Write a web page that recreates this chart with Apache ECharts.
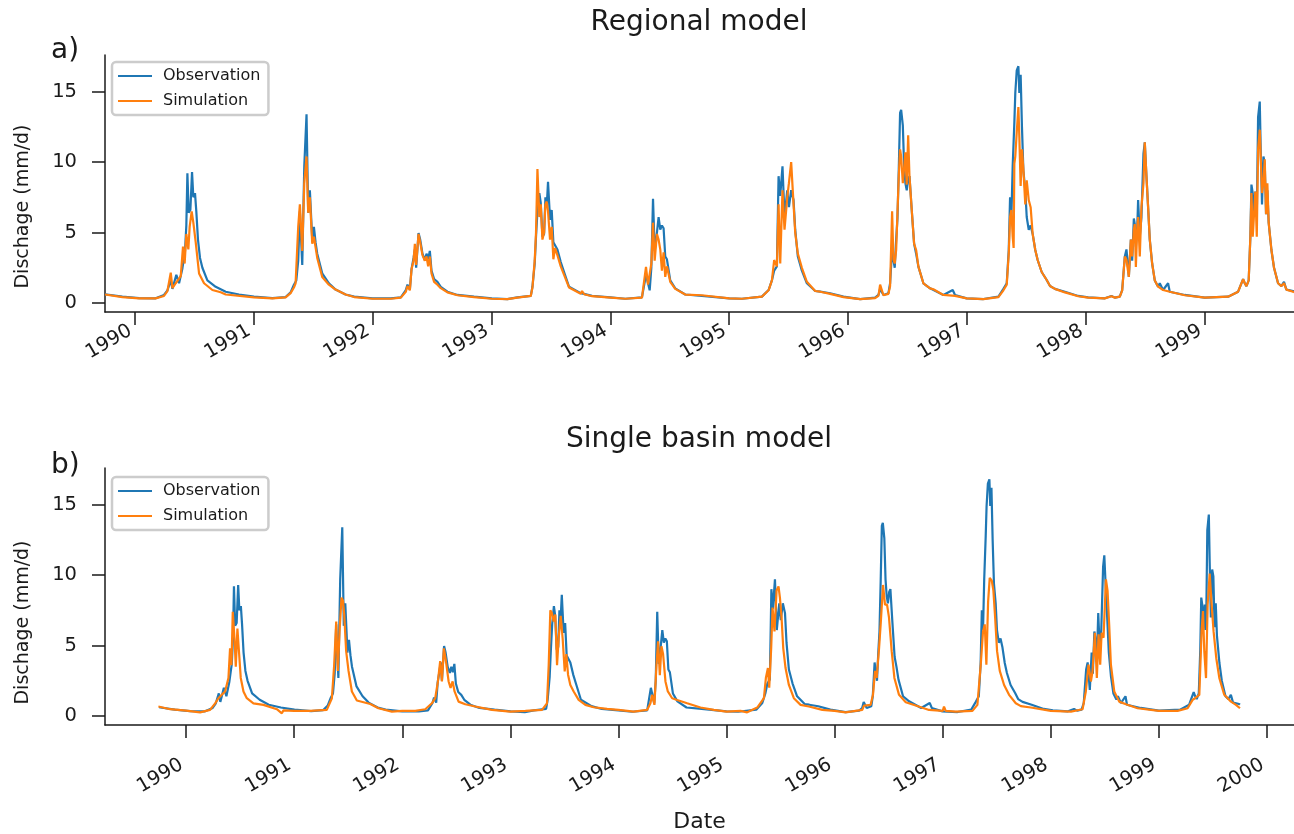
<!DOCTYPE html>
<html><head><meta charset="utf-8">
<script src="https://cdn.jsdelivr.net/npm/echarts@6/dist/echarts.min.js"></script>
<style>html,body{margin:0;padding:0;background:#fff}#c{width:1294px;height:834px}</style>
</head><body><div id="c"></div>
<script>
// time in decimal years, discharge in mm/d
const observation = [
[1989.75,0.62],[1989.896,0.45],[1990.036,0.35],[1990.176,0.33],[1990.246,0.57],[1990.275,0.9],[1990.303,1.6],[1990.317,1.0],[1990.35,2.0],[1990.373,1.4],[1990.401,2.45],[1990.423,3.7],[1990.434,5.5],[1990.443,9.2],[1990.454,6.4],[1990.468,6.6],[1990.482,9.3],[1990.493,7.5],[1990.507,7.8],[1990.518,6.5],[1990.532,4.5],[1990.549,3.2],[1990.569,2.5],[1990.611,1.6],[1990.681,1.15],[1990.765,0.8],[1990.877,0.6],[1991.003,0.45],[1991.157,0.35],[1991.269,0.42],[1991.311,0.75],[1991.339,1.3],[1991.359,1.6],[1991.375,3.0],[1991.389,6.5],[1991.409,2.7],[1991.426,9.7],[1991.445,13.4],[1991.459,6.4],[1991.473,8.0],[1991.493,4.5],[1991.507,5.4],[1991.521,4.3],[1991.535,3.5],[1991.577,2.1],[1991.633,1.4],[1991.689,0.95],[1991.773,0.6],
[1991.846,0.45],[1992.0,0.33],[1992.154,0.33],[1992.238,0.4],[1992.28,0.92],[1992.294,1.3],[1992.314,0.95],[1992.328,2.4],[1992.345,3.2],[1992.356,3.8],[1992.367,2.5],[1992.387,4.97],[1992.401,4.5],[1992.42,3.5],[1992.44,3.05],[1992.454,3.5],[1992.468,3.1],[1992.482,3.7],[1992.496,2.3],[1992.518,1.7],[1992.546,1.5],[1992.574,1.15],[1992.63,0.8],[1992.714,0.57],[1992.854,0.45],[1993.003,0.33],[1993.134,0.27],[1993.218,0.4],[1993.331,0.5],[1993.345,1.15],[1993.364,2.8],[1993.375,4.7],[1993.387,6.5],[1993.403,7.8],[1993.415,7.1],[1993.429,4.7],[1993.443,4.9],[1993.454,7.5],[1993.465,6.8],[1993.476,8.6],[1993.493,5.9],[1993.507,6.6],[1993.521,4.3],[1993.535,4.4],[1993.555,3.8],[1993.583,2.9],[1993.611,2.2],[1993.653,1.15],[1993.751,0.7],
[1993.846,0.5],[1994.0,0.4],[1994.126,0.3],[1994.266,0.4],[1994.3,2.0],[1994.317,1.4],[1994.331,0.9],[1994.345,2.5],[1994.359,7.4],[1994.373,3.7],[1994.392,5.0],[1994.406,6.1],[1994.42,5.2],[1994.434,5.5],[1994.448,5.3],[1994.462,3.3],[1994.476,3.1],[1994.504,1.6],[1994.546,1.04],[1994.63,0.6],[1994.77,0.5],[1995.0,0.33],[1995.107,0.3],[1995.275,0.45],[1995.331,0.92],[1995.359,1.6],[1995.378,2.3],[1995.401,2.6],[1995.415,9.0],[1995.429,7.6],[1995.448,9.7],[1995.465,6.1],[1995.488,8.0],[1995.502,6.8],[1995.521,8.0],[1995.541,7.3],[1995.555,5.2],[1995.577,3.3],[1995.611,2.3],[1995.653,1.4],[1995.723,0.85],
[1995.765,0.8],[1995.849,0.69],[1995.961,0.45],[1996.101,0.27],[1996.227,0.38],[1996.255,0.57],[1996.269,1.0],[1996.297,0.57],[1996.339,0.69],[1996.353,1.4],[1996.37,3.8],[1996.381,3.05],[1996.392,2.5],[1996.404,4.5],[1996.415,6.0],[1996.426,9.5],[1996.437,13.5],[1996.446,13.7],[1996.46,12.6],[1996.471,9.7],[1996.482,8.5],[1996.493,8.0],[1996.505,8.8],[1996.516,9.0],[1996.535,6.6],[1996.555,4.2],[1996.572,3.5],[1996.591,2.58],[1996.633,1.4],[1996.689,1.04],[1996.801,0.57],[1996.88,0.92],[1996.899,0.57],[1996.997,0.33],[1997.138,0.28],[1997.264,0.45],[1997.306,1.0],[1997.334,1.4],[1997.351,3.76],[1997.362,7.5],[1997.373,6.1],[1997.384,9.7],[1997.398,12.8],[1997.406,14.9],[1997.418,16.5],[1997.432,16.8],[1997.44,14.9],[1997.451,16.2],[1997.462,12.5],[1997.474,9.4],[1997.49,8.0],[1997.502,6.1],[1997.519,5.2],[1997.535,5.5],[1997.552,4.9],[1997.574,3.76],[1997.594,3.05],[1997.628,2.2],[1997.67,1.63],[1997.698,1.2],
[1997.739,1.0],[1997.823,0.8],[1997.935,0.5],[1998.019,0.4],[1998.159,0.33],[1998.215,0.5],[1998.243,0.38],[1998.285,0.45],[1998.305,0.92],[1998.327,3.3],[1998.341,3.8],[1998.361,1.85],[1998.378,4.5],[1998.389,3.0],[1998.403,6.0],[1998.411,5.6],[1998.42,4.0],[1998.431,5.2],[1998.439,7.3],[1998.453,4.7],[1998.467,6.1],[1998.484,10.6],[1998.495,11.4],[1998.509,9.0],[1998.523,6.8],[1998.537,4.5],[1998.557,2.8],[1998.579,1.6],[1998.607,1.16],[1998.621,1.4],[1998.649,0.92],[1998.691,1.4],[1998.705,0.8],[1998.831,0.57],[1999.0,0.38],[1999.196,0.45],[1999.28,0.8],[1999.322,1.7],[1999.336,1.4],[1999.35,1.2],[1999.369,1.6],[1999.383,4.7],[1999.392,8.4],[1999.403,7.8],[1999.414,6.1],[1999.425,7.9],[1999.437,6.1],[1999.448,13.2],[1999.462,14.3],[1999.47,10.9],[1999.481,7.0],[1999.493,10.4],[1999.504,9.9],[1999.515,6.3],[1999.526,8.0],[1999.537,5.7],[1999.56,3.76],[1999.582,2.5],[1999.616,1.4],[1999.644,1.2],[1999.666,1.5],[1999.686,0.95],[1999.742,0.85],[1999.75,0.8]
];

const regionalSimulation = [
[1989.75,0.6],[1989.896,0.42],[1990.036,0.33],[1990.176,0.33],[1990.246,0.5],[1990.275,0.85],[1990.303,2.15],[1990.317,1.05],[1990.345,1.4],[1990.387,1.9],[1990.406,4.0],[1990.42,2.8],[1990.434,4.9],[1990.451,3.8],[1990.462,5.4],[1990.479,6.5],[1990.493,5.7],[1990.513,4.3],[1990.541,2.1],[1990.583,1.4],[1990.653,0.92],[1990.723,0.76],[1990.765,0.6],[1991.003,0.4],[1991.157,0.33],[1991.269,0.4],[1991.311,0.7],[1991.339,1.1],[1991.353,1.4],[1991.375,5.4],[1991.389,7.0],[1991.409,3.7],[1991.426,8.5],[1991.445,10.4],[1991.459,6.4],[1991.473,7.5],[1991.493,4.2],[1991.507,4.7],[1991.535,3.2],[1991.577,1.85],[1991.633,1.3],[1991.689,0.95],[1991.773,0.6],
[1991.846,0.42],[1992.0,0.3],[1992.154,0.3],[1992.238,0.38],[1992.28,0.8],[1992.294,1.2],[1992.314,0.9],[1992.328,2.4],[1992.345,3.0],[1992.356,4.2],[1992.367,2.7],[1992.387,4.9],[1992.401,4.3],[1992.42,3.4],[1992.44,3.0],[1992.454,3.3],[1992.468,2.6],[1992.482,3.3],[1992.496,2.1],[1992.518,1.5],[1992.546,1.3],[1992.574,1.05],[1992.63,0.75],[1992.714,0.55],[1992.854,0.42],[1993.003,0.3],[1993.134,0.27],[1993.218,0.38],[1993.331,0.5],[1993.345,1.1],[1993.364,3.0],[1993.375,5.0],[1993.387,9.5],[1993.403,6.1],[1993.415,7.0],[1993.429,4.5],[1993.443,5.0],[1993.454,7.0],[1993.465,7.2],[1993.476,6.5],[1993.493,4.5],[1993.507,5.4],[1993.521,3.1],[1993.535,3.9],[1993.555,3.4],[1993.583,2.6],[1993.611,2.0],[1993.653,1.1],[1993.751,0.65],
[1993.762,0.85],[1993.78,0.62],[1993.846,0.48],[1994.0,0.38],[1994.126,0.3],[1994.266,0.38],[1994.3,2.56],[1994.317,1.3],[1994.331,1.2],[1994.345,2.8],[1994.359,5.7],[1994.373,3.0],[1994.392,4.9],[1994.406,4.5],[1994.42,3.8],[1994.434,2.3],[1994.448,3.6],[1994.462,1.85],[1994.476,2.6],[1994.504,1.5],[1994.546,1.0],[1994.63,0.6],[1994.77,0.55],[1995.0,0.33],[1995.107,0.3],[1995.275,0.45],[1995.331,0.9],[1995.359,1.6],[1995.378,3.05],[1995.401,2.6],[1995.415,7.0],[1995.429,2.8],[1995.448,8.0],[1995.465,5.2],[1995.488,7.5],[1995.502,8.5],[1995.521,10.0],[1995.541,7.0],[1995.555,5.0],[1995.577,3.5],[1995.611,2.5],[1995.653,1.5],[1995.723,0.85],
[1995.765,0.8],[1995.849,0.65],[1995.961,0.42],[1996.101,0.27],[1996.227,0.35],[1996.255,0.5],[1996.269,1.3],[1996.297,0.55],[1996.339,0.65],[1996.353,1.2],[1996.37,6.5],[1996.381,3.1],[1996.392,2.8],[1996.404,3.76],[1996.415,6.4],[1996.426,9.0],[1996.437,10.9],[1996.446,10.4],[1996.46,8.5],[1996.471,8.5],[1996.482,10.7],[1996.493,8.4],[1996.505,11.9],[1996.516,9.0],[1996.535,6.6],[1996.555,4.2],[1996.572,3.76],[1996.591,2.58],[1996.633,1.4],[1996.689,1.04],[1996.717,0.97],[1996.801,0.57],[1996.899,0.5],[1996.997,0.33],[1997.138,0.28],[1997.264,0.42],[1997.306,0.9],[1997.334,1.3],[1997.351,3.5],[1997.362,6.1],[1997.373,6.6],[1997.384,4.7],[1997.392,3.9],[1997.398,9.9],[1997.406,10.4],[1997.418,12.1],[1997.432,13.9],[1997.44,11.8],[1997.451,8.3],[1997.462,10.9],[1997.474,9.5],[1997.49,7.0],[1997.502,8.7],[1997.519,7.3],[1997.535,6.8],[1997.552,4.9],[1997.574,3.76],[1997.594,3.05],[1997.628,2.2],[1997.67,1.63],[1997.698,1.2],
[1997.739,1.0],[1997.823,0.75],[1997.935,0.48],[1998.019,0.38],[1998.159,0.33],[1998.215,0.48],[1998.243,0.38],[1998.285,0.45],[1998.305,0.9],[1998.327,3.3],[1998.341,3.05],[1998.361,1.85],[1998.378,4.5],[1998.389,3.3],[1998.403,5.2],[1998.411,5.6],[1998.42,2.56],[1998.431,5.2],[1998.439,6.1],[1998.453,3.3],[1998.467,6.8],[1998.484,8.5],[1998.495,11.4],[1998.509,9.0],[1998.523,6.8],[1998.537,4.5],[1998.557,2.8],[1998.579,1.6],[1998.607,1.16],[1998.621,1.3],[1998.649,0.92],[1998.705,0.8],[1998.831,0.55],[1999.0,0.38],[1999.196,0.45],[1999.28,0.8],[1999.322,1.7],[1999.336,1.4],[1999.35,1.2],[1999.369,1.6],[1999.383,4.7],[1999.392,7.8],[1999.403,4.7],[1999.414,4.7],[1999.425,7.9],[1999.437,4.7],[1999.448,10.9],[1999.462,12.3],[1999.47,10.4],[1999.481,7.8],[1999.493,8.5],[1999.504,10.2],[1999.515,6.3],[1999.526,8.5],[1999.537,5.7],[1999.56,3.76],[1999.582,2.5],[1999.616,1.4],[1999.644,1.2],[1999.666,1.4],[1999.686,0.95],[1999.742,0.8],[1999.75,0.75]
];

const singleBasinSimulation = [
[1989.744,0.67],[1989.852,0.48],[1990.0,0.38],[1990.13,0.26],[1990.222,0.43],[1990.269,0.9],[1990.299,1.26],[1990.33,1.5],[1990.361,1.74],[1990.392,2.7],[1990.407,4.8],[1990.42,3.6],[1990.432,7.4],[1990.448,5.5],[1990.46,3.5],[1990.475,6.2],[1990.491,4.4],[1990.506,2.7],[1990.531,1.74],[1990.562,1.26],[1990.623,0.9],[1990.716,0.79],[1990.731,0.85],[1990.84,0.48],[1990.886,0.19],[1990.901,0.4],[1991.0,0.36],[1991.148,0.36],[1991.302,0.43],[1991.349,1.26],[1991.37,3.6],[1991.389,6.7],[1991.404,3.2],[1991.42,6.0],[1991.438,8.4],[1991.451,8.2],[1991.463,7.2],[1991.481,4.6],[1991.503,3.2],[1991.534,1.74],[1991.58,1.1],[1991.704,0.85],
[1991.78,0.55],[1991.904,0.31],[1992.0,0.36],[1992.12,0.36],[1992.213,0.48],[1992.274,0.9],[1992.305,1.26],[1992.33,2.45],[1992.351,3.9],[1992.367,2.45],[1992.385,4.8],[1992.404,3.9],[1992.429,2.45],[1992.447,2.0],[1992.466,2.45],[1992.484,1.74],[1992.521,1.02],[1992.583,0.83],[1992.676,0.67],[1992.83,0.43],[1993.0,0.31],[1993.139,0.36],[1993.293,0.43],[1993.339,0.9],[1993.355,3.64],[1993.37,7.5],[1993.385,7.3],[1993.401,6.7],[1993.416,7.2],[1993.432,3.6],[1993.447,5.5],[1993.466,7.1],[1993.484,5.5],[1993.503,3.17],[1993.518,4.4],[1993.534,2.93],[1993.555,2.2],[1993.586,1.74],[1993.632,1.14],[1993.694,0.79],
[1993.771,0.62],[1993.895,0.5],[1994.0,0.43],[1994.142,0.31],[1994.265,0.43],[1994.296,0.9],[1994.312,1.5],[1994.333,0.79],[1994.352,3.64],[1994.367,5.3],[1994.383,2.9],[1994.398,4.95],[1994.413,4.4],[1994.435,2.45],[1994.457,1.74],[1994.497,1.26],[1994.543,1.14],[1994.636,0.9],[1994.759,0.6],[1994.883,0.43],[1995.0,0.31],[1995.13,0.36],[1995.191,0.26],[1995.284,0.6],[1995.346,1.26],[1995.364,2.69],[1995.383,3.4],[1995.395,2.0],[1995.413,4.8],[1995.426,7.7],[1995.444,6.0],[1995.463,8.9],[1995.481,9.2],[1995.494,8.4],[1995.509,7.0],[1995.525,4.8],[1995.546,3.4],[1995.577,2.2],[1995.623,1.26],[1995.685,0.79],
[1995.762,0.67],[1995.886,0.43],[1996.0,0.36],[1996.102,0.26],[1996.256,0.43],[1996.272,0.74],[1996.333,0.79],[1996.355,1.5],[1996.374,3.2],[1996.389,2.7],[1996.411,4.8],[1996.426,6.5],[1996.448,9.3],[1996.466,7.9],[1996.485,7.9],[1996.503,7.0],[1996.528,4.6],[1996.553,2.7],[1996.596,1.5],[1996.658,0.98],[1996.75,0.74],[1996.874,0.43],[1997.0,0.36],[1997.012,0.67],[1997.028,0.36],[1997.12,0.31],[1997.275,0.36],[1997.321,0.79],[1997.352,3.64],[1997.373,6.0],[1997.389,6.5],[1997.404,3.64],[1997.42,8.1],[1997.435,9.8],[1997.454,9.6],[1997.469,8.9],[1997.485,7.0],[1997.503,4.6],[1997.528,3.2],[1997.568,2.2],[1997.614,1.5],[1997.676,0.9],
[1997.723,0.7],[1997.815,0.6],[1998.0,0.36],[1998.186,0.31],[1998.294,0.48],[1998.324,1.74],[1998.349,3.64],[1998.371,2.45],[1998.386,3.17],[1998.408,5.9],[1998.426,2.7],[1998.442,5.8],[1998.457,3.64],[1998.47,5.9],[1998.488,5.55],[1998.51,9.7],[1998.525,8.9],[1998.54,6.5],[1998.556,3.64],[1998.587,1.74],[1998.633,1.02],[1998.695,0.83],[1998.803,0.55],[1999.0,0.36],[1999.173,0.36],[1999.266,0.55],[1999.312,1.14],[1999.334,1.26],[1999.374,1.5],[1999.395,6.0],[1999.408,7.45],[1999.42,4.6],[1999.436,2.69],[1999.451,7.9],[1999.47,10.1],[1999.488,7.9],[1999.506,6.0],[1999.531,4.1],[1999.559,2.7],[1999.605,1.5],[1999.667,1.02],[1999.713,0.79],[1999.75,0.55]
];

const yearTicksA = [1990, 1991, 1992, 1993, 1994, 1995, 1996, 1997, 1998, 1999];
const yearTicksB = [1990, 1991, 1992, 1993, 1994, 1995, 1996, 1997, 1998, 1999, 2000];
const dischargeTicks = [0, 5, 10, 15];
const panelTitles = ['Regional model', 'Single basin model'];
const panelLetters = ['a)', 'b)'];
const seriesNames = ['Observation', 'Simulation'];
const yLabel = 'Dischage (mm/d)';
const xLabel = 'Date';

const FONT = 'DejaVu Sans';
const INK = '#1a1a1a';
const BLUE = '#1f77b4', ORANGE = '#ff7f0e';

function xAxisCfg(idx, min, max, ticks, margin, withName) {
  const a = {
    type: 'value', gridIndex: idx, min: min, max: max,
    axisLine: { show: true, onZero: false, lineStyle: { color: INK, width: 1.5 } },
    axisTick: { show: true, length: 13, lineStyle: { color: INK, width: 1.5 }, customValues: ticks },
    axisLabel: { show: true, customValues: ticks, rotate: 30, margin: margin, fontSize: 19.5, fontFamily: FONT, color: INK,
      padding: [0, 5, 0, 0], formatter: v => String(Math.round(v)) },
    splitLine: { show: false }
  };
  if (withName) {
    a.name = xLabel; a.nameLocation = 'middle'; a.nameGap = 86;
    a.nameTextStyle = { fontSize: 22, fontFamily: FONT, color: INK };
  }
  return a;
}
function yAxisCfg(idx, shift) {
  return {
    type: 'value', gridIndex: idx, min: -0.64, max: 17.6,
    name: yLabel, nameLocation: 'middle', nameGap: 72,
    nameTextStyle: { fontSize: 19, fontFamily: FONT, color: INK, padding: [0, shift, 0, 0] },
    axisLine: { show: true, lineStyle: { color: INK, width: 1.5 } },
    axisTick: { show: true, length: 13, lineStyle: { color: INK, width: 1.5 }, customValues: dischargeTicks },
    axisLabel: { show: true, customValues: dischargeTicks, margin: 28, fontSize: 19.5, fontFamily: FONT, color: INK },
    splitLine: { show: false }
  };
}
function legendCfg(top) {
  return {
    data: seriesNames, orient: 'vertical', left: 112, top: top,
    icon: 'path://M0,0H34V2.2H0Z',
    itemWidth: 34, itemHeight: 14, itemGap: 9,
    padding: [6, 8, 6, 6],
    backgroundColor: 'rgba(255,255,255,0.8)', borderColor: '#cccccc', borderWidth: 2.5, borderRadius: 4,
    textStyle: { fontSize: 16, fontFamily: FONT, color: INK, padding: [0, 0, 0, 6] },
    selectedMode: false
  };
}
function lineSeries(name, data, xi, color) {
  return { type: 'line', name: name, data: data, xAxisIndex: xi, yAxisIndex: xi,
    symbol: 'none', showSymbol: false, lineStyle: { color: color, width: 2.2 }, itemStyle: { color: color },
    animation: false, clip: true };
}

const chart = echarts.init(document.getElementById('c'), null, { renderer: 'canvas' });
chart.setOption({
  backgroundColor: '#ffffff',
  animation: false,
  textStyle: { fontFamily: FONT },
  title: [
    { text: panelTitles[0], left: 694, top: 4, textAlign: 'center', textStyle: { fontSize: 28, fontWeight: 'normal', fontFamily: FONT, color: INK } },
    { text: panelTitles[1], left: 694, top: 421, textAlign: 'center', textStyle: { fontSize: 28, fontWeight: 'normal', fontFamily: FONT, color: INK } },
    { text: panelLetters[0], left: 46, top: 32, textStyle: { fontSize: 28, fontWeight: 'normal', fontFamily: FONT, color: INK } },
    { text: panelLetters[1], left: 46, top: 447, textStyle: { fontSize: 28, fontWeight: 'normal', fontFamily: FONT, color: INK } }
  ],
  legend: [legendCfg(62), legendCfg(477)],
  grid: [
    { left: 105, top: 55, width: 1189, height: 257, containLabel: false },
    { left: 105, top: 468, width: 1189, height: 258, containLabel: false }
  ],
  xAxis: [
    xAxisCfg(0, 1989.75, 1999.75, yearTicksA, 15, false),
    xAxisCfg(1, 1989.25, 2000.25, yearTicksB, 36, true)
  ],
  yAxis: [yAxisCfg(0, 46), yAxisCfg(1, 52)],
  series: [
    lineSeries(seriesNames[0], observation, 0, BLUE),
    lineSeries(seriesNames[1], regionalSimulation, 0, ORANGE),
    lineSeries(seriesNames[0], observation, 1, BLUE),
    lineSeries(seriesNames[1], singleBasinSimulation, 1, ORANGE)
  ]
});
</script>
</body></html>
